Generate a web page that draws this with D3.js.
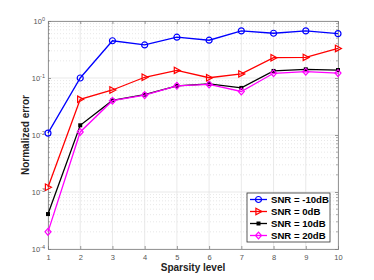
<!DOCTYPE html>
<html><head><meta charset="utf-8">
<script src="https://cdn.jsdelivr.net/npm/d3@7"></script>
<style>body{margin:0;background:#fff}svg{display:block}</style>
</head><body><svg id="c" width="374" height="280"></svg>
<script>
const sparsity = [1,2,3,4,5,6,7,8,9,10];
const snrM10 = [0.0108,0.1,0.45,0.38,0.52,0.46,0.67,0.61,0.67,0.60];
const snr0   = [0.00121,0.0423,0.0616,0.103,0.136,0.101,0.118,0.227,0.23,0.33];
const snr10  = [0.00041,0.0148,0.0405,0.051,0.073,0.079,0.067,0.133,0.142,0.138];
const snr20  = [0.0002,0.0113,0.040,0.050,0.073,0.077,0.058,0.121,0.129,0.122];
const seriesNames = ["SNR = -10dB","SNR = 0dB","SNR = 10dB","SNR = 20dB"];
const yTickExps = [-4,-3,-2,-1,0];

const svg = d3.select("#c");
const L=48,R=338,T=21,B=249;
const x = d3.scaleLinear().domain([1,10]).range([L,R]);
const y = d3.scaleLog().domain([1e-4,1]).range([B,T]);
const g = svg.append("g");

// minor grid
const minors=[];
yTickExps.slice(0,-1).forEach(e=>{for(let k=2;k<=9;k++)minors.push(k*Math.pow(10,e));});
g.selectAll(".mg").data(minors).enter().append("line")
 .attr("x1",L).attr("x2",R).attr("y1",d=>y(d)).attr("y2",d=>y(d))
 .attr("stroke","#d8d8d8").attr("stroke-width",0.6).attr("stroke-dasharray","1,2");
// major grid
g.selectAll(".gx").data(sparsity).enter().append("line")
 .attr("x1",d=>x(d)).attr("x2",d=>x(d)).attr("y1",T).attr("y2",B)
 .attr("stroke","#e3e3e3").attr("stroke-width",0.8);
g.selectAll(".gy").data(yTickExps).enter().append("line")
 .attr("x1",L).attr("x2",R).attr("y1",d=>y(Math.pow(10,d))).attr("y2",d=>y(Math.pow(10,d)))
 .attr("stroke","#e3e3e3").attr("stroke-width",0.8);

// axes (ticks inside)
const ax = d3.axisBottom(x).tickValues(sparsity).tickSize(-3).tickPadding(6).tickFormat(d3.format("d"));
const axT = d3.axisTop(x).tickValues(sparsity).tickSize(-3).tickFormat("");
const ay = d3.axisLeft(y).tickValues(yTickExps.map(e=>Math.pow(10,e))).tickSize(-3).tickPadding(5).tickFormat("");
const ayR = d3.axisRight(y).tickValues(yTickExps.map(e=>Math.pow(10,e))).tickSize(-3).tickFormat("");
function style(sel){sel.selectAll("path,line").attr("stroke","#808080").attr("stroke-width",0.8);sel.selectAll("text").attr("fill","#555").attr("font-family","Liberation Sans, Arial, sans-serif").attr("font-size",7.5);}
const gx=svg.append("g").attr("transform",`translate(0,${B})`).call(ax);style(gx);
const gt=svg.append("g").attr("transform",`translate(0,${T})`).call(axT);style(gt);
const gy=svg.append("g").attr("transform",`translate(${L},0)`).call(ay);style(gy);
const gr=svg.append("g").attr("transform",`translate(${R},0)`).call(ayR);style(gr);
// minor ticks on y
[L,R].forEach((xx,i)=>{
 svg.selectAll(null).data(minors).enter().append("line")
  .attr("x1",xx).attr("x2",i?xx-2:xx+2).attr("y1",d=>y(d)).attr("y2",d=>y(d))
  .attr("stroke","#808080").attr("stroke-width",0.6);
});
// y tick labels 10^e
gy.selectAll(".tick").each(function(d){
 const e=Math.round(Math.log10(d));
 const t=d3.select(this).append("text").attr("x",-3).attr("dy","0.32em").attr("text-anchor","end")
  .attr("fill","#555").attr("font-family","Liberation Sans, Arial, sans-serif").attr("font-size",7.5);
 t.append("tspan").text("10");
 t.append("tspan").attr("dy","-0.5em").attr("font-size",5.5).text(String(e));
});

// series
const colors=["#0000ff","#ff0000","#000000","#ff00ff"];
const data=[snrM10,snr0,snr10,snr20];
const line=d3.line().x((d,i)=>x(sparsity[i])).y(d=>y(d));
function marker(sel,k,c){
 if(k===0) sel.append("circle").attr("r",3).attr("fill","none").attr("stroke",c).attr("stroke-width",1.2);
 else if(k===1) sel.append("path").attr("d","M-2.6,-3.2L3.4,0L-2.6,3.2Z").attr("fill","none").attr("stroke",c).attr("stroke-width",1.2);
 else if(k===2) sel.append("rect").attr("x",-2).attr("y",-2).attr("width",4).attr("height",4).attr("fill",c);
 else sel.append("path").attr("d","M0,-3.4L3,0L0,3.4L-3,0Z").attr("fill","none").attr("stroke",c).attr("stroke-width",1.2);
}
data.forEach((s,k)=>{
 svg.append("path").datum(s).attr("d",line).attr("fill","none").attr("stroke",colors[k]).attr("stroke-width",1.3);
 s.forEach((v,i)=>{
  const m=svg.append("g").attr("transform",`translate(${x(sparsity[i])},${y(v)})`);
  marker(m,k,colors[k]);
 });
});

// legend
const lg=svg.append("g");
lg.append("rect").attr("x",247).attr("y",193).attr("width",83).attr("height",49)
 .attr("fill","#fff").attr("stroke","#333").attr("stroke-width",0.8);
seriesNames.forEach((n,k)=>{
 const yy=199.5+k*12;
 lg.append("line").attr("x1",250).attr("x2",267).attr("y1",yy).attr("y2",yy).attr("stroke",colors[k]).attr("stroke-width",1.3);
 const m=lg.append("g").attr("transform",`translate(258.5,${yy})`);marker(m,k,colors[k]);
 lg.append("text").attr("x",271).attr("y",yy).attr("dy","0.35em").attr("font-family","Liberation Sans, Arial, sans-serif")
  .attr("font-weight","bold").attr("font-size",9.6).attr("fill","#000").text(n);
});

// axis titles
svg.append("text").attr("x",(L+R)/2).attr("y",271).attr("text-anchor","middle")
 .attr("font-family","Liberation Sans, Arial, sans-serif").attr("font-weight","bold").attr("font-size",10).attr("fill","#222").text("Sparsity level");
svg.append("text").attr("transform",`translate(29,${(T+B)/2}) rotate(-90)`).attr("text-anchor","middle")
 .attr("font-family","Liberation Sans, Arial, sans-serif").attr("font-weight","bold").attr("font-size",10).attr("fill","#222").text("Normalized error");
</script></body></html>
